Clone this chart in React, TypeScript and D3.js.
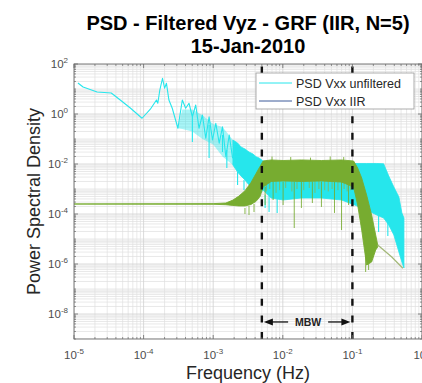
import React from 'react';
import * as d3 from 'd3';

// ---------- data ----------
const xTickExps = [-5, -4, -3, -2, -1, 0];
const yTickExps = [2, 0, -2, -4, -6, -8];

// PSD Vxx unfiltered: sparse low-frequency trace (Hz, PSD)
const unfiltLowFreq = [1.14e-5, 1.35e-5, 2.15e-5, 3.43e-5, 4.62e-5, 6.44e-5, 9.5e-5, 1.25e-4, 1.53e-4, 1.6e-4, 1.71e-4, 1.87e-4, 2.0e-4, 2.13e-4, 2.31e-4, 2.58e-4, 2.88e-4, 3.11e-4, 3.6e-4, 4.02e-4, 4.49e-4, 5.02e-4, 5.61e-4, 6.25e-4, 7.0e-4, 7.82e-4, 8.73e-4, 9.77e-4, 1.09e-3, 1.22e-3, 1.36e-3, 1.52e-3, 1.7e-3, 1.9e-3];
const unfiltLowPsd = [17.4, 12.0, 7.59, 6.92, 3.63, 1.74, 0.676, 1.55, 3.63, 2.69, 9.12, 26.9, 10.7, 16.9, 3.63, 1.7, 0.575, 0.269, 3.63, 1.7, 2.69, 0.776, 2.29, 0.269, 0.912, 0.107, 0.776, 0.0912, 0.427, 0.0676, 0.309, 0.0195, 0.145, 0.017];

// PSD Vxx unfiltered: partially filled noise between peaks and troughs
const unfiltMidFreq = [3.11e-4, 3.6e-4, 5.0e-4, 7.0e-4, 1.0e-3, 1.36e-3, 1.92e-3];
const unfiltMidHigh = [0.27, 1.5, 1.5, 0.9, 0.4, 0.3, 0.0912];
const unfiltMidLow = [0.269, 0.25, 0.2, 0.1, 0.06, 0.02, 0.00912];

// PSD Vxx unfiltered: dense band (upper / lower envelope)
const unfiltBandFreq = [1.92e-3, 2.24e-3, 2.51e-3, 2.86e-3, 3.27e-3, 3.73e-3, 4.13e-3, 4.56e-3, 5.21e-3, 6.79e-3, 1.01e-2, 1.85e-2, 3.59e-2, 6.98e-2, 0.108, 0.16, 0.224, 0.281, 0.333, 0.394, 0.466, 0.514, 0.55];
const unfiltBandHigh = [0.0912, 0.069, 0.0479, 0.0398, 0.0302, 0.0251, 0.0195, 0.0174, 0.0132, 0.012, 0.012, 0.012, 0.012, 0.012, 0.0105, 0.0105, 0.0105, 0.0102, 0.00331, 0.0012, 4.79e-4, 1.1e-4, 6.92e-5];
const unfiltBandLow = [0.00912, 0.00479, 0.00331, 0.00229, 0.00145, 9.12e-4, 7.59e-4, 5.75e-4, 9.12e-4, 4.37e-4, 3.63e-4, 4.37e-4, 4.37e-4, 3.63e-4, 2.29e-4, 1.45e-4, 9.12e-5, 6.92e-5, 3.63e-5, 1.45e-5, 3.02e-6, 1.2e-6, 6.92e-7];

// PSD Vxx unfiltered: downward spikes (Hz, from, to)
const unfiltSpikeFreq = [5.02e-4, 8.73e-4, 1.36e-3, 1.57e-3, 2.24e-3, 2.77e-3, 3.49e-3, 4.13e-3, 5.57e-3, 6.35e-3, 8.3e-3, 0.136, 0.177, 0.238, 0.323];
const unfiltSpikeTop = [0.759, 0.363, 0.145, 0.0363, 0.00479, 0.00229, 0.00145, 7.59e-4, 5.75e-4, 5.25e-4, 4.37e-4, 2.29e-4, 1.45e-4, 9.12e-5, 5.75e-5];
const unfiltSpikeBottom = [0.0759, 0.0174, 0.0302, 0.00692, 0.00145, 9.12e-4, 5.25e-4, 3.63e-4, 1.74e-4, 1.2e-4, 1.1e-4, 2.75e-5, 3.63e-5, 1.91e-5, 1.32e-5];

// PSD Vxx IIR: band (upper / lower envelope)
const iirBandFreq = [1e-5, 1.0e-3, 1.52e-3, 1.92e-3, 2.34e-3, 2.86e-3, 3.49e-3, 4.13e-3, 4.71e-3, 5.21e-3, 6.79e-3, 1.01e-2, 1.85e-2, 3.59e-2, 6.98e-2, 0.104, 0.119, 0.136, 0.16, 0.189, 0.216, 0.231];
const iirBandHigh = [2.51e-4, 2.6e-4, 2.75e-4, 3.6e-4, 5.2e-4, 8.5e-4, 0.0018, 0.0042, 0.008, 0.0132, 0.0145, 0.0138, 0.0145, 0.0138, 0.0145, 0.0132, 0.00692, 0.00275, 5.75e-4, 9.12e-5, 1.45e-5, 5.75e-6];
const iirBandLow = [2.51e-4, 2.45e-4, 2.35e-4, 2.2e-4, 2.1e-4, 2.1e-4, 2.4e-4, 3.2e-4, 5.0e-4, 0.0012, 0.002, 0.0021, 0.002, 0.0021, 0.0019, 0.0012, 2.29e-4, 2.29e-5, 9.12e-7, 1.2e-6, 3.63e-6, 4.79e-6];

// PSD Vxx IIR: roll-off tail
const iirTailFreq = [0.231, 0.368, 0.531];
const iirTailPsd = [5.75e-6, 1.91e-6, 6.76e-7];

// PSD Vxx IIR: deep downward spikes and upward peaks
const iirSpikeFreq = [2.86e-3, 3.27e-3, 3.86e-3, 5.57e-3, 7.26e-3, 1.01e-2, 1.46e-2, 1.85e-2, 2.66e-2, 3.59e-2, 5.53e-2, 6.98e-2, 8.81e-2, 0.155, 0.171, 7.0e-3, 1.3e-2, 2.5e-2, 4.8e-2, 7.5e-2];
const iirSpikeTop = [1.74e-4, 2.09e-4, 2.51e-4, 0.0012, 0.002, 0.002, 0.002, 0.002, 0.002, 0.002, 0.002, 0.002, 0.002, 3.63e-6, 2.29e-6, 0.02, 0.019, 0.018, 0.02, 0.019];
const iirSpikeBottom = [1.0e-4, 9.12e-5, 1.2e-4, 2.29e-4, 3.63e-4, 2.29e-4, 2.75e-5, 1.74e-4, 2.75e-4, 1.91e-4, 1.1e-4, 2.29e-5, 2.29e-4, 4.79e-7, 5.75e-7, 0.012, 0.012, 0.012, 0.012, 0.012];

// PSD Vxx IIR: light streaks below the dense plateau (Hz, lowest PSD)
const iirStreakFreq = [5.8e-3, 6.5e-3, 8.0e-3, 9.0e-3, 1.1e-2, 1.35e-2, 1.6e-2, 2.0e-2, 2.4e-2, 2.9e-2, 3.3e-2, 4.0e-2, 4.5e-2, 5.1e-2, 6.2e-2, 7.6e-2, 8.4e-2, 9.4e-2];
const iirStreakLow = [8e-4, 1e-3, 7e-4, 9e-4, 1.1e-3, 8e-4, 1e-3, 9e-4, 1.1e-3, 7e-4, 1e-3, 9e-4, 8e-4, 1e-3, 9e-4, 1e-3, 8e-4, 9e-4];

// MBW markers
const mbwEdges = [0.005, 0.1];
const mbwArrowLevel = 4.8e-9;
const mbwLabel = 'MBW';

const legendLabels = ['PSD Vxx unfiltered', 'PSD Vxx IIR'];
const titleLines = ['PSD - Filtered Vyz - GRF (IIR, N=5)', '15-Jan-2010'];
const xLabel = 'Frequency (Hz)';
const yLabel = 'Power Spectral Density';

// ---------- layout ----------
const W = 422;
const H = 383;
const P = { left: 74, right: 422, top: 64, bottom: 339 };
const FONT = "'Liberation Sans', Arial, Helvetica, sans-serif";
const CYAN = '#26e6ec';
const GREEN = '#77ac30';
const AXIS = '#6a6a6a';

export default function App() {
  const x = d3.scaleLog().domain([1e-5, 1]).range([P.left, P.right]);
  const y = d3.scaleLog().domain([1e-9, 1e2]).range([P.bottom, P.top]);

  const xDecades = d3.range(-5, 1);
  const yDecades = d3.range(-9, 3);
  const xMinor: number[] = [];
  xDecades.slice(0, -1).forEach((e) => d3.range(2, 10).forEach((k) => xMinor.push(k * Math.pow(10, e))));
  const yMinor: number[] = [];
  yDecades.slice(0, -1).forEach((e) => d3.range(2, 10).forEach((k) => yMinor.push(k * Math.pow(10, e))));
  const yOddDecades = yDecades.filter((e) => !yTickExps.includes(e)).map((e) => Math.pow(10, e));

  const lowPts = unfiltLowFreq.map((f, i) => [f, unfiltLowPsd[i]] as [number, number]);
  const line = d3.line<[number, number]>().x((d) => x(d[0])).y((d) => y(d[1]));
  const area = d3
    .area<{ f: number; hi: number; lo: number }>()
    .x((d) => x(d.f))
    .y0((d) => y(d.lo))
    .y1((d) => y(d.hi));

  const unfiltMid = unfiltMidFreq.map((f, i) => ({ f, hi: unfiltMidHigh[i], lo: unfiltMidLow[i] }));
  const unfiltBand = unfiltBandFreq.map((f, i) => ({ f, hi: unfiltBandHigh[i], lo: unfiltBandLow[i] }));
  const iirBand = iirBandFreq.map((f, i) => ({ f, hi: iirBandHigh[i], lo: iirBandLow[i] }));
  const iirTail = iirTailFreq.map((f, i) => [f, iirTailPsd[i]] as [number, number]);
  const streakTop = 0.0021;

  const majTick = 4;
  const minTick = 2;

  const legend = { x: 256, y: 73, w: 158, h: 36 };

  const xm0 = x(mbwEdges[0]);
  const xm1 = x(mbwEdges[1]);
  const ya = y(mbwArrowLevel);
  const xmMid = (xm0 + xm1) / 2 + 1;

  return (
    <svg
      width={W}
      height={H}
      style={{ position: 'absolute', left: 0, top: 0, background: '#fff' }}
      fontFamily={FONT}
    >
      <defs>
        <clipPath id="plotClip">
          <rect x={P.left} y={P.top} width={P.right - P.left} height={P.bottom - P.top} />
        </clipPath>
      </defs>
      <rect x={0} y={0} width={W} height={H} fill="#fff" />

      {/* grid */}
      <g clipPath="url(#plotClip)">
        {xMinor.map((v, i) => (
          <line key={'xm' + i} x1={x(v)} x2={x(v)} y1={P.top} y2={P.bottom} stroke="#e0e0e0" strokeWidth={0.7} />
        ))}
        {yMinor.map((v, i) => (
          <line key={'ym' + i} x1={P.left} x2={P.right} y1={y(v)} y2={y(v)} stroke="#e0e0e0" strokeWidth={0.7} />
        ))}
        {yOddDecades.map((v, i) => (
          <line key={'yo' + i} x1={P.left} x2={P.right} y1={y(v)} y2={y(v)} stroke="#e0e0e0" strokeWidth={0.7} />
        ))}
        {xDecades.map((e) => (
          <line key={'xM' + e} x1={x(Math.pow(10, e))} x2={x(Math.pow(10, e))} y1={P.top} y2={P.bottom} stroke="#d0d0d0" strokeWidth={0.8} />
        ))}
        {yTickExps.map((e) => (
          <line key={'yM' + e} x1={P.left} x2={P.right} y1={y(Math.pow(10, e))} y2={y(Math.pow(10, e))} stroke="#d0d0d0" strokeWidth={0.8} />
        ))}
      </g>

      {/* data */}
      <g clipPath="url(#plotClip)">
        <path d={area(unfiltMid) || ''} fill={CYAN} opacity={0.4} />
        <path d={line(lowPts) || ''} fill="none" stroke={CYAN} strokeWidth={1.1} strokeLinejoin="round" />
        <path d={area(unfiltBand) || ''} fill={CYAN} stroke={CYAN} strokeWidth={0.8} />
        {unfiltSpikeFreq.map((f, i) => (
          <line key={'us' + i} x1={x(f)} x2={x(f)} y1={y(unfiltSpikeTop[i])} y2={y(unfiltSpikeBottom[i])} stroke={CYAN} strokeWidth={1.1} />
        ))}
        {iirStreakFreq.map((f, i) => (
          <line key={'st' + i} x1={x(f)} x2={x(f)} y1={y(streakTop)} y2={y(iirStreakLow[i])} stroke="#8db653" strokeWidth={1} opacity={0.8} />
        ))}
        <path d={area(iirBand) || ''} fill={GREEN} stroke={GREEN} strokeWidth={0.9} />
        <path d={line(iirTail) || ''} fill="none" stroke="#a3b878" strokeWidth={1.2} />
        {iirSpikeFreq.map((f, i) => (
          <line key={'is' + i} x1={x(f)} x2={x(f)} y1={y(iirSpikeTop[i])} y2={y(iirSpikeBottom[i])} stroke={GREEN} strokeWidth={1} opacity={0.85} />
        ))}
      </g>

      {/* MBW dashed lines */}
      {mbwEdges.map((f, i) => (
        <line key={'mbw' + i} x1={x(f)} x2={x(f)} y1={P.bottom} y2={P.top} stroke="#111" strokeWidth={2.4} strokeDasharray="7 9.6" />
      ))}

      {/* frame */}
      <rect x={P.left} y={P.top} width={P.right - P.left} height={P.bottom - P.top} fill="none" stroke={AXIS} strokeWidth={0.9} />
      {xDecades.map((e) => {
        const xv = x(Math.pow(10, e));
        return (
          <g key={'xt' + e}>
            <line x1={xv} x2={xv} y1={P.bottom} y2={P.bottom - majTick} stroke={AXIS} strokeWidth={0.8} />
            <line x1={xv} x2={xv} y1={P.top} y2={P.top + majTick} stroke={AXIS} strokeWidth={0.8} />
          </g>
        );
      })}
      {xMinor.map((v, i) => (
        <g key={'xmt' + i}>
          <line x1={x(v)} x2={x(v)} y1={P.bottom} y2={P.bottom - minTick} stroke={AXIS} strokeWidth={0.7} />
          <line x1={x(v)} x2={x(v)} y1={P.top} y2={P.top + minTick} stroke={AXIS} strokeWidth={0.7} />
        </g>
      ))}
      {yTickExps.map((e) => {
        const yv = y(Math.pow(10, e));
        return (
          <g key={'yt' + e}>
            <line x1={P.left} x2={P.left + majTick} y1={yv} y2={yv} stroke={AXIS} strokeWidth={0.8} />
            <line x1={P.right} x2={P.right - majTick} y1={yv} y2={yv} stroke={AXIS} strokeWidth={0.8} />
          </g>
        );
      })}
      {[...yMinor, ...yOddDecades].map((v, i) => (
        <g key={'ymt' + i}>
          <line x1={P.left} x2={P.left + minTick} y1={y(v)} y2={y(v)} stroke={AXIS} strokeWidth={0.7} />
          <line x1={P.right} x2={P.right - minTick} y1={y(v)} y2={y(v)} stroke={AXIS} strokeWidth={0.7} />
        </g>
      ))}

      {/* tick labels */}
      {xTickExps.map((e) => (
        <text key={'xl' + e} x={x(Math.pow(10, e))} y={359} textAnchor="middle" fontSize={11.5} fill="#4d4d4d">
          <tspan>10</tspan>
          <tspan dy={-5} fontSize={8}>{String(e)}</tspan>
        </text>
      ))}
      {yTickExps.map((e) => (
        <text key={'yl' + e} x={68} y={y(Math.pow(10, e)) + 4} textAnchor="end" fontSize={11.5} fill="#4d4d4d">
          <tspan>10</tspan>
          <tspan dy={-5} fontSize={8}>{String(e)}</tspan>
        </text>
      ))}

      {/* legend */}
      <g>
        <rect x={legend.x} y={legend.y} width={legend.w} height={legend.h} fill="#fff" stroke="#9a9a9a" strokeWidth={0.8} />
        <line x1={legend.x + 3} x2={legend.x + 36} y1={legend.y + 10} y2={legend.y + 10} stroke={CYAN} strokeWidth={1} />
        <line x1={legend.x + 3} x2={legend.x + 36} y1={legend.y + 28} y2={legend.y + 28} stroke="#3d5a99" strokeWidth={1} />
        <text x={legend.x + 40} y={legend.y + 14.5} fontSize={12.5} fill="#262626">{legendLabels[0]}</text>
        <text x={legend.x + 40} y={legend.y + 32.5} fontSize={12.5} fill="#262626">{legendLabels[1]}</text>
      </g>

      {/* MBW annotation */}
      <g>
        <line x1={xm0 + 10} x2={xmMid - 20} y1={ya} y2={ya} stroke="#111" strokeWidth={1.3} />
        <path d={`M${xm0 + 2},${ya} L${xm0 + 11},${ya - 3.5} L${xm0 + 11},${ya + 3.5} Z`} fill="#111" />
        <line x1={xmMid + 20} x2={xm1 - 10} y1={ya} y2={ya} stroke="#111" strokeWidth={1.3} />
        <path d={`M${xm1 - 2},${ya} L${xm1 - 11},${ya - 3.5} L${xm1 - 11},${ya + 3.5} Z`} fill="#111" />
        <text x={xmMid} y={ya + 4} textAnchor="middle" fontSize={10.5} fontWeight="bold" fill="#222">{mbwLabel}</text>
      </g>

      {/* title & labels */}
      <text x={(P.left + P.right) / 2} y={30} textAnchor="middle" fontSize={20} fontWeight="bold" fill="#000">{titleLines[0]}</text>
      <text x={(P.left + P.right) / 2} y={53} textAnchor="middle" fontSize={20} fontWeight="bold" fill="#000">{titleLines[1]}</text>
      <text x={(P.left + P.right) / 2} y={379} textAnchor="middle" fontSize={18} fill="#262626">{xLabel}</text>
      <text transform={`translate(40,${(P.top + P.bottom) / 2}) rotate(-90)`} textAnchor="middle" fontSize={18} fill="#262626">{yLabel}</text>
    </svg>
  );
}
